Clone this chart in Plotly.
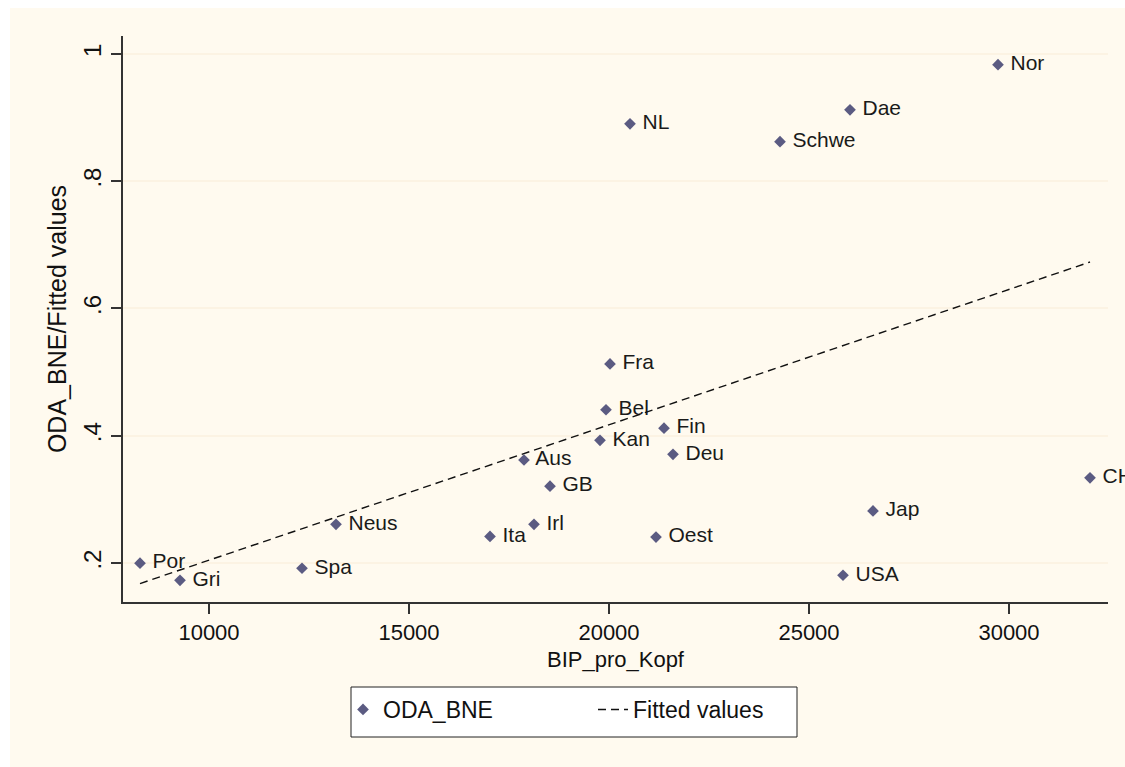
import plotly.graph_objects as go

# Official development assistance (share of GNI) against GDP per head
countries = ["Por", "Gri", "Spa", "Neus", "Ita", "Irl", "Aus", "GB", "Kan", "Bel",
             "Fra", "Fin", "Deu", "Oest", "NL", "Schwe", "Dae", "Nor", "USA", "Jap", "CH"]
bip_pro_kopf = [8275, 9275, 12325, 13175, 17025, 18125, 17875, 18525, 19775, 19925,
                20025, 21375, 21600, 21175, 20525, 24275, 26025, 29725, 25850, 26600, 32025]
oda_bne = [0.200, 0.173, 0.192, 0.261, 0.242, 0.261, 0.362, 0.321, 0.393, 0.441,
           0.513, 0.412, 0.371, 0.241, 0.890, 0.862, 0.912, 0.983, 0.181, 0.282, 0.334]

# Linear fit drawn across the observed range
fit_x = [8275, 32025]
fit_y = [0.168, 0.673]

x_ticks = [10000, 15000, 20000, 25000, 30000]
x_tick_text = ["10000", "15000", "20000", "25000", "30000"]
y_ticks = [0.2, 0.4, 0.6, 0.8, 1.0]
y_tick_text = [".2", ".4", ".6", ".8", "1"]

FONT = "Liberation Sans, Arial, sans-serif"
CREAM = "#FFFAEF"
MARKER = "#5B5B82"

W, H = 1125, 767
L, R, T, B = 123, 17, 36, 165
PW, PH = W - L - R, H - T - B


def px_x(p):
    return (p - L) / PW


def px_y(p):
    return (H - B - p) / PH


fig = go.Figure()

fig.add_trace(go.Scatter(
    x=bip_pro_kopf, y=oda_bne, mode="markers+text", name="ODA_BNE",
    text=countries, texttemplate=" %{text}", textposition="middle right",
    textfont=dict(family=FONT, size=21, color="#1a1a1a"),
    marker=dict(symbol="diamond", size=9, color=MARKER),
    cliponaxis=False,
))
fig.add_trace(go.Scatter(
    x=fit_x, y=fit_y, mode="lines", name="Fitted values",
    line=dict(color="#111111", width=1.4, dash="8px,5px"),
))

shapes = [
    # graph region background
    dict(type="rect", xref="paper", yref="paper", layer="below",
         x0=px_x(10), x1=px_x(1140), y0=px_y(780), y1=px_y(8),
         fillcolor=CREAM, line=dict(width=0)),
    # legend frame
    dict(type="rect", xref="paper", yref="paper", layer="below",
         x0=px_x(351), x1=px_x(797), y0=px_y(737), y1=px_y(687),
         fillcolor="white", line=dict(color="#222222", width=1)),
]

fig.update_layout(
    width=W, height=H,
    margin=dict(l=L, r=R, t=T, b=B),
    paper_bgcolor="white", plot_bgcolor="white",
    font=dict(family=FONT, color="#111111"),
    shapes=shapes,
    showlegend=True,
    legend=dict(
        orientation="h", x=px_x(343), xanchor="left", y=px_y(688), yanchor="top",
        bgcolor="rgba(0,0,0,0)", borderwidth=0,
        font=dict(family=FONT, size=23, color="#111111"),
        entrywidth=205, itemwidth=30,
    ),
    xaxis=dict(
        range=[7850, 32475], tickvals=x_ticks, ticktext=x_tick_text,
        ticks="outside", ticklen=10,
        tickwidth=1.5, tickcolor="#333333", showgrid=False, zeroline=False,
        showline=True, linecolor="#333333", linewidth=2,
        tickfont=dict(family=FONT, size=22, color="#111111"),
        title=dict(text="BIP_pro_Kopf", standoff=7,
                   font=dict(family=FONT, size=22, color="#111111")),
    ),
    yaxis=dict(
        range=[0.139, 1.028], tickvals=y_ticks, ticktext=y_tick_text,
        tickangle=-90, ticks="outside", ticklen=10, tickwidth=1.5,
        tickcolor="#333333", showgrid=True, gridcolor="#FCF3E3", gridwidth=1.5,
        zeroline=False, showline=True, linecolor="#333333", linewidth=2,
        tickfont=dict(family=FONT, size=24, color="#111111"),
        title=dict(text="ODA_BNE/Fitted values", standoff=6,
                   font=dict(family=FONT, size=25, color="#111111")),
    ),
)

fig.write_html("out.html")
